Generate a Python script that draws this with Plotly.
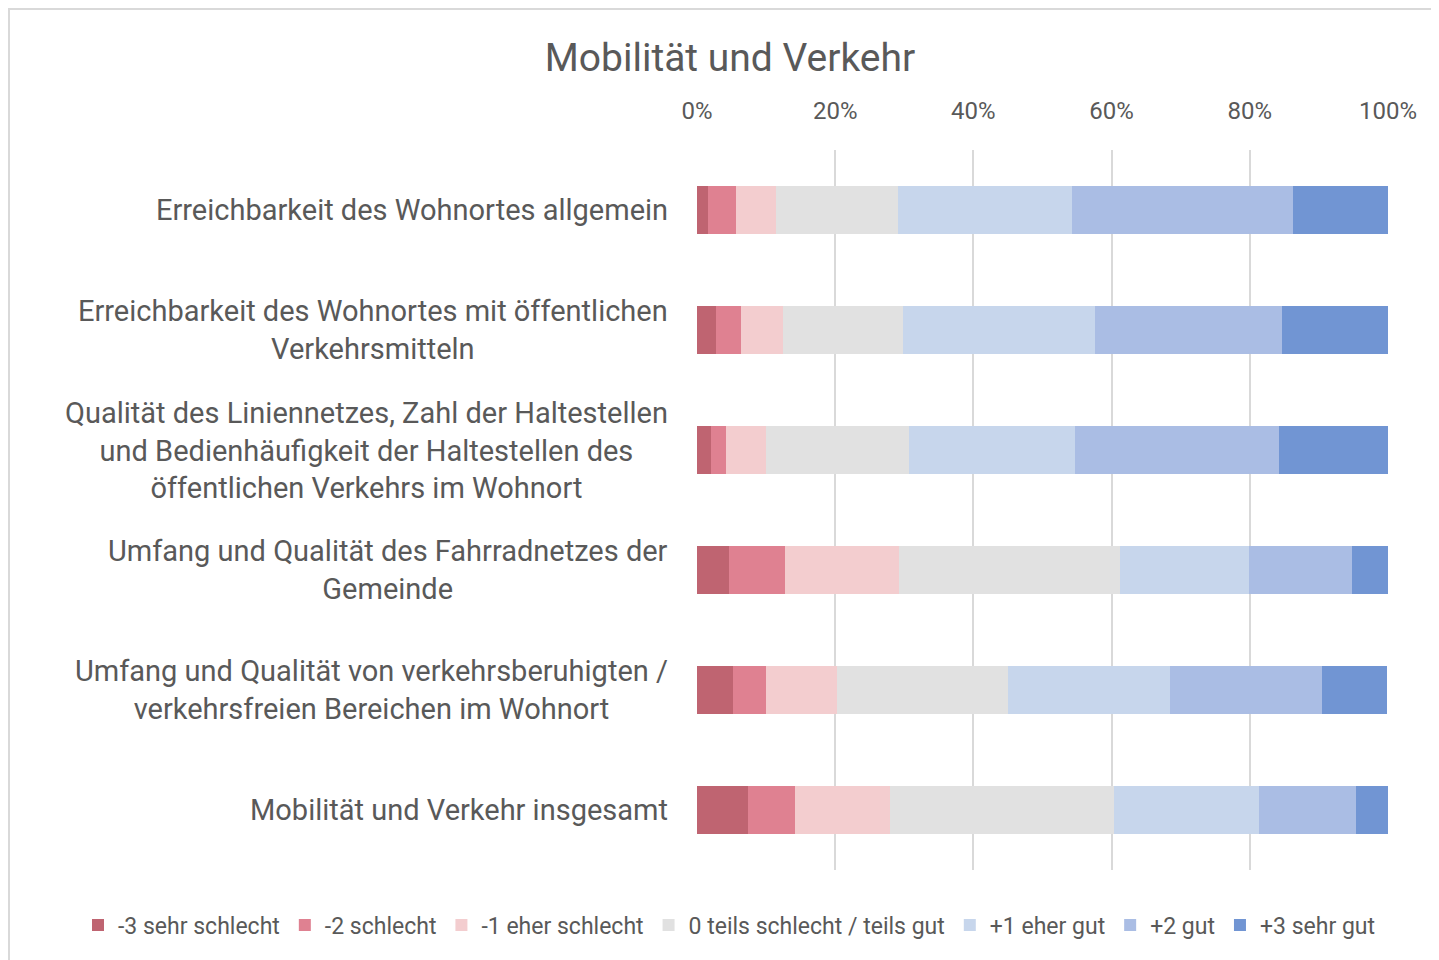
import plotly.graph_objects as go

# Kategorien (von oben nach unten)
categories = [
    "Erreichbarkeit des Wohnortes allgemein",
    "Erreichbarkeit des Wohnortes mit öffentlichen<br>Verkehrsmitteln",
    "Qualität des Liniennetzes, Zahl der Haltestellen<br>und Bedienhäufigkeit der Haltestellen des<br>öffentlichen Verkehrs im Wohnort",
    "Umfang und Qualität des Fahrradnetzes der<br>Gemeinde",
    "Umfang und Qualität von verkehrsberuhigten /<br>verkehrsfreien Bereichen im Wohnort",
    "Mobilität und Verkehr insgesamt",
]

series_names = [
    "-3 sehr schlecht",
    "-2 schlecht",
    "-1 eher schlecht",
    "0 teils schlecht / teils gut",
    "+1 eher gut",
    "+2 gut",
    "+3 sehr gut",
]

# Anteile je Kategorie (in %)
v_m3 = [1.6, 2.7, 2.0, 4.6, 5.2, 7.4]
v_m2 = [4.0, 3.6, 2.2, 8.2, 4.8, 6.8]
v_m1 = [5.8, 6.1, 5.8, 16.4, 10.3, 13.7]
v_0 = [17.7, 17.4, 20.7, 32.0, 24.7, 32.4]
v_p1 = [25.2, 27.8, 24.0, 18.7, 23.4, 21.1]
v_p2 = [32.0, 27.1, 29.5, 14.9, 22.1, 13.9]
v_p3 = [13.7, 15.3, 15.8, 5.2, 9.4, 4.7]

values = [v_m3, v_m2, v_m1, v_0, v_p1, v_p2, v_p3]

colors = ["#BF6471", "#DF8191", "#F3CDCF", "#E1E1E1", "#C7D6EC", "#AABDE4", "#7195D3"]

text_color = "#595959"
font_family = "Roboto, 'Open Sans', sans-serif"

W, H = 1431, 952
ML, MR, MT, MB = 689, 51, 142, 90
pw = W - ML - MR
ph = H - MT - MB

fig = go.Figure()
for name, vals, col in zip(series_names, values, colors):
    fig.add_trace(go.Bar(
        y=categories,
        x=[v / 100 for v in vals],
        name=name,
        orientation="h",
        marker=dict(color=col, line=dict(width=0)),
        width=0.4,
    ))

# Kategorie-Beschriftungen zentriert ausgerichtet
for cat in categories:
    fig.add_annotation(
        x=0, y=cat, xref="paper", yref="y",
        text=cat, showarrow=False,
        xanchor="right", yanchor="middle", align="center",
        xshift=-27,
        font=dict(size=29, color=text_color, family=font_family),
    )

# Rahmen
fig.add_shape(
    type="rect", xref="paper", yref="paper",
    x0=(1 - ML) / pw, x1=1.2, y0=-0.3, y1=(ph + MT - 1) / ph,
    line=dict(color="#D9D9D9", width=2), fillcolor="rgba(0,0,0,0)",
    layer="below",
)

fig.update_layout(
    width=W, height=H,
    barmode="stack",
    bargap=0.6,
    plot_bgcolor="white",
    paper_bgcolor="white",
    margin=dict(l=ML, r=MR, t=MT, b=MB, autoexpand=False),
    title=dict(
        text="Mobilität und Verkehr",
        x=0.5045, xanchor="center", xref="container",
        y=1 - 49 / H, yanchor="middle", yref="container",
        font=dict(size=39, color=text_color, family=font_family),
    ),
    xaxis=dict(
        side="top",
        range=[0, 1],
        tickvals=[0, 0.2, 0.4, 0.6, 0.8, 1.0],
        tickformat=".0%",
        showgrid=True, gridcolor="#D9D9D9", gridwidth=2,
        zeroline=False, showline=False,
        ticks="", ticklabelstandoff=25,
        tickfont=dict(size=24, color=text_color, family=font_family),
    ),
    yaxis=dict(
        autorange="reversed",
        showticklabels=False,
        showgrid=False, zeroline=False, showline=False,
        ticks="",
    ),
    legend=dict(
        orientation="h",
        xref="paper", yref="paper",
        x=(70 - ML) / pw, xanchor="left",
        y=(ph + MT - 917) / ph, yanchor="middle",
        font=dict(size=23, color=text_color, family=font_family),
        itemwidth=30,
        tracegroupgap=0,
        traceorder="normal",
    ),
    showlegend=True,
)

fig.write_html("out.html")
